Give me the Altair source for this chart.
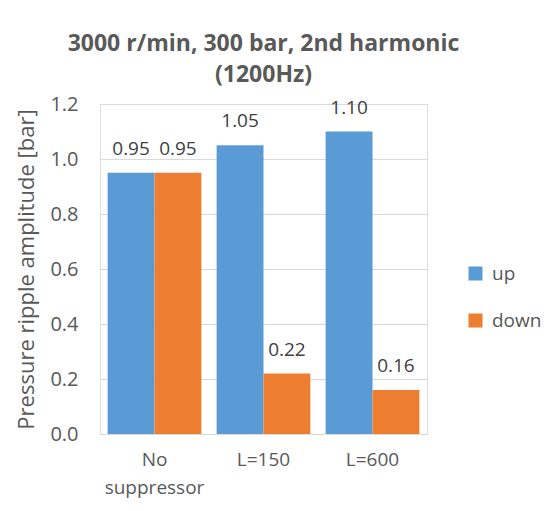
import altair as alt
import pandas as pd

categories = ["No suppressor", "L=150", "L=600"]
series = ["up", "down"]
up_values = [0.95, 1.05, 1.10]
down_values = [0.95, 0.22, 0.16]

rows = []
for c, u, d in zip(categories, up_values, down_values):
    rows.append({"cat": c, "series": "up", "value": u})
    rows.append({"cat": c, "series": "down", "value": d})
df = pd.DataFrame(rows)

FONT = "Open Sans"
GRAY = "#595959"

x = alt.X("cat:N", sort=categories, title=None,
          scale=alt.Scale(paddingInner=0.14, paddingOuter=0.07),
          axis=alt.Axis(labelAngle=0, labelFontSize=19, labelColor=GRAY, labelFont=FONT,
                        ticks=False, domain=False, labelPadding=16, labelLineHeight=28,
                        labelExpr="datum.label == 'No suppressor' ? ['No', 'suppressor'] : datum.label"))
y = alt.Y("value:Q", title="Pressure ripple amplitude [bar]",
          scale=alt.Scale(domain=[0, 1.2]),
          axis=alt.Axis(values=[0, 0.2, 0.4, 0.6, 0.8, 1.0, 1.2], format=".1f",
                        labelFontSize=20, labelColor=GRAY, labelFont=FONT, labelPadding=22,
                        titleFontSize=22, titleColor=GRAY, titleFont=FONT, titleFontWeight="normal",
                        titlePadding=11, ticks=False, domain=False,
                        gridColor="#d9d9d9", gridWidth=1))
color = alt.Color("series:N", sort=series,
                  scale=alt.Scale(domain=series, range=["#5B9BD5", "#ED7D31"]),
                  legend=alt.Legend(title=None, orient="none", legendX=366, legendY=160,
                                    symbolType="square", symbolSize=196, symbolStrokeWidth=0,
                                    symbolOpacity=1, labelFontSize=19, labelColor=GRAY,
                                    labelFont=FONT, rowPadding=27, labelOffset=7, padding=0))

base = alt.Chart(df).encode(x=x, xOffset=alt.XOffset("series:N", sort=series))
bars = base.mark_bar(opacity=1).encode(y=y, color=color)
text = base.mark_text(dy=-18, baseline="alphabetic", fontSize=19, color="#404040", font=FONT).encode(
    y="value:Q", text=alt.Text("value:Q", format=".2f"))

chart = (bars + text).properties(
    width=327, height=330,
    autosize=alt.AutoSizeParams(type="none"),
    title=alt.TitleParams(["3000 r/min, 300 bar, 2nd harmonic", "(1200Hz)"],
                          fontSize=23, font=FONT, fontWeight="bold", color=GRAY,
                          lineHeight=31, offset=7, anchor="middle"),
    padding={"left": 92, "top": 96, "right": 115, "bottom": 66},
).configure_view(stroke="#d9d9d9", strokeWidth=1).configure(background="white")

chart.save("out.html", embed_options={"renderer": "svg", "actions": False})
